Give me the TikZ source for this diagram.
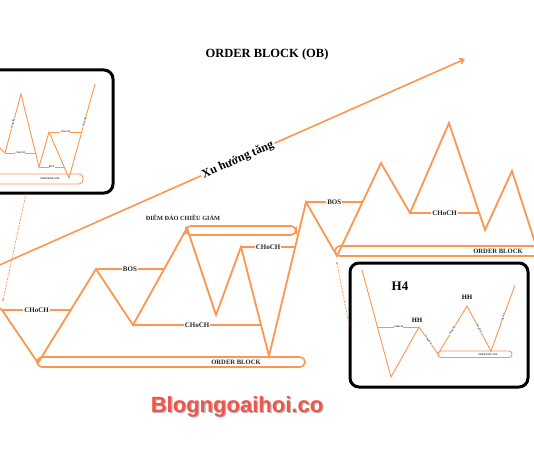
\documentclass[tikz,border=0pt]{standalone}
\usepackage{fontspec}
\setmainfont{Liberation Serif}
\setsansfont{Liberation Sans}
\usetikzlibrary{arrows.meta,calc}
\definecolor{org}{RGB}{252,150,80}
\definecolor{blogred}{RGB}{243,84,74}
\begin{document}
\begin{tikzpicture}[x=1pt,y=-1pt,
  chart/.style={draw=org,line width=1.8pt,line join=miter},
  ichart/.style={draw=org,line width=0.9pt},
  lbl/.style={fill=white,inner sep=1.2pt,text=black!85,font=\bfseries\fontsize{7}{7}\selectfont},
  tinylbl/.style={fill=white,inner sep=0.4pt,text=black!80,font=\bfseries\fontsize{2.6}{2.6}\selectfont},
  obox/.style={draw=org,line width=1.6pt,rounded corners=5pt},
  iobox/.style={draw=org,line width=0.9pt,rounded corners=4pt},
  frame/.style={draw=black,line width=3pt,rounded corners=9pt},
  guide/.style={draw=org,line width=0.7pt,dash pattern=on 2pt off 1.2pt},
  dotc/.style={circle,fill=org,inner sep=0pt,minimum size=2.2pt}]
\clip (0,0) rectangle (534,462);
\fill[white] (0,0) rectangle (534,462);

% ---------- title ----------
\node (title) at (267,54) {\bfseries\fontsize{12.5}{13}\selectfont ORDER BLOCK (OB)};

% ---------- trend arrow ----------
\coordinate (t0) at (-5,267);
\coordinate (t1) at (465,59);
\draw[draw=org,line width=1.6pt,-{Straight Barb[length=4pt,width=6pt]}] (t0) -- (t1);
\node[fill=white,inner sep=1.5pt,rotate=23.9,font=\bfseries\fontsize{12}{12}\selectfont] (trend) at (238,160) {Xu hướng tăng};

% ---------- main chart ----------
\coordinate (m0) at (-2,307);
\coordinate (m1) at (2,310);
\coordinate (m2) at (38,363);
\coordinate (m3) at (96,269);
\coordinate (m4) at (133,325);
\coordinate (m5) at (187,228);
\coordinate (m6) at (216,315);
\coordinate (m7) at (241,247);
\coordinate (m8) at (269,356);
\coordinate (m9) at (306,202);
\coordinate (m10) at (337,256);
\coordinate (m11) at (381,163);
\coordinate (m12) at (410,213);
\coordinate (m13) at (449,123);
\coordinate (m14) at (485,230);
\coordinate (m15) at (512,171);
\coordinate (m16) at (539,255);

% level line end points
\coordinate (e1) at (71,310);
\coordinate (e2) at (164,269);
\coordinate (e3) at (261,325);
\coordinate (e4) at (295,247);
\coordinate (e5) at (362.5,202);
\coordinate (e6) at (479,213);

% order blocks
\draw[obox] (186,226) rectangle (296,235);
\draw[obox] (37,357) rectangle (305,367);
\draw[obox] (335,246) rectangle (548,256);

\draw[chart] (m0) -- (m1) -- (m2) -- (m3) -- (m4) -- (m5) -- (m6) -- (m7) -- (m8) -- (m9) -- (m10) -- (m11) -- (m12) -- (m13) -- (m14) -- (m15) -- (m16);

\draw[chart] (m1) -- (e1) node[lbl,midway] (c1) {CHoCH};
\draw[chart] (m3) -- (e2) node[lbl,midway] (b1) {BOS};
\draw[chart] (m4) -- (e3) node[lbl,midway] (c2) {CHoCH};
\draw[chart] (m7) -- (e4) node[lbl,midway] (c3) {CHoCH};
\draw[chart] (m9) -- (e5) node[lbl,midway] (b2) {BOS};
\draw[chart] (m12) -- (e6) node[lbl,midway] (c4) {CHoCH};

\node[inner sep=0pt,text=black!85,font=\bfseries\fontsize{6.3}{6.3}\selectfont] (dd) at (183,218) {ĐIỂM ĐẢO CHIỀU GIẢM};
\node[lbl,fill=none,font=\bfseries\fontsize{6.6}{6.6}\selectfont] (ob1) at (236,362) {ORDER BLOCK};
\node[lbl,fill=none,font=\bfseries\fontsize{6.6}{6.6}\selectfont] (ob2) at (498,251) {ORDER BLOCK};

% ---------- inset 1 ----------
\draw[frame,fill=white] (-12,70) rectangle (113,193);
\coordinate (a0) at (-2,146);
\coordinate (a1) at (5,153);
\coordinate (a2) at (21,94);
\coordinate (a3) at (39,167);
\coordinate (a4) at (49,132);
\coordinate (a5) at (69,178);
\coordinate (a6) at (95,84);
\coordinate (f1) at (35.5,153);
\coordinate (f2) at (81.7,132);
\coordinate (f3) at (64.2,167);
\draw[iobox] (-10,174) rectangle (83,184);
\node[tinylbl,fill=none] (iob1) at (50,179) {ORDER BLOCK};
\draw[ichart] (a0) -- (a1) -- (a2) -- (a3) -- (a4) -- (a5) -- (a6);
\draw[ichart] (a1) -- (f1) node[tinylbl,midway] {CHoCH};
\draw[ichart] (a4) -- (f2) node[tinylbl,midway] {CHoCH};
\draw[ichart] (a3) -- (f3) node[tinylbl,midway] {BOS};
\node[tinylbl,rotate=75] at ($(a1)!0.5!(a2)$) {Sóng đẩy};
\node[tinylbl,rotate=74.5] at ($(a5)!0.6!(a6)$) {Sóng đẩy};

% guide 1
\coordinate (g1a) at (26,194);
\coordinate (g1b) at (3,300);
\draw[guide] (g1a) -- (g1b);
\node[dotc] (g1dot) at (g1b) {};

% ---------- inset 2 (H4) ----------
\draw[frame,fill=white] (350,263) rectangle (528,387);
\node[font=\bfseries\fontsize{13}{13}\selectfont] (h4) at (400,286) {H4};
\coordinate (b0) at (362,270);
\coordinate (b1) at (391,377);
\coordinate (b2) at (419,327);
\coordinate (b3) at (438,354);
\coordinate (b4) at (467,306);
\coordinate (b5) at (491,351);
\coordinate (b6) at (515,285);
\coordinate (k1) at (378,327);
\draw[iobox,rounded corners=3pt] (438,351) rectangle (512,357.5);
\node[tinylbl,fill=none] (iob2) at (488,354.3) {ORDER BLOCK};
\draw[ichart] (b0) -- (b1) -- (b2) -- (b3) -- (b4) -- (b5) -- (b6);
\draw[ichart] (k1) -- (b2) node[tinylbl,midway] {CHoCH};
\node[font=\bfseries\fontsize{6.6}{6.6}\selectfont] (hh1) at (417,320) {HH};
\node[font=\bfseries\fontsize{6.6}{6.6}\selectfont] (hh2) at (467,297) {HH};
\node[tinylbl,rotate=-55] at ($(b2)!0.5!(b3)$) {Sóng hồi};
\node[tinylbl,rotate=59] at ($(b3)!0.5!(b4)$) {Sóng đẩy};
\node[tinylbl,rotate=-62] at ($(b4)!0.5!(b5)$) {Sóng hồi};
\node[tinylbl,rotate=70] at ($(b5)!0.5!(b6)$) {Sóng đẩy};

% guide 2
\coordinate (g2a) at (337,263);
\coordinate (g2b) at (349,325);
\draw[guide] (g2a) -- (g2b);
\node[dotc] (g2dot) at (g2a) {};

% ---------- watermark ----------
\node[anchor=base,text=black!30,font=\sffamily\bfseries\fontsize{22}{22}\selectfont] at (238.3,413.4) {Blogngoaihoi.co};
\node[anchor=base,text=blogred,font=\sffamily\bfseries\fontsize{22}{22}\selectfont] (blog) at (237,412) {Blogngoaihoi.co};
\end{tikzpicture}
\end{document}
